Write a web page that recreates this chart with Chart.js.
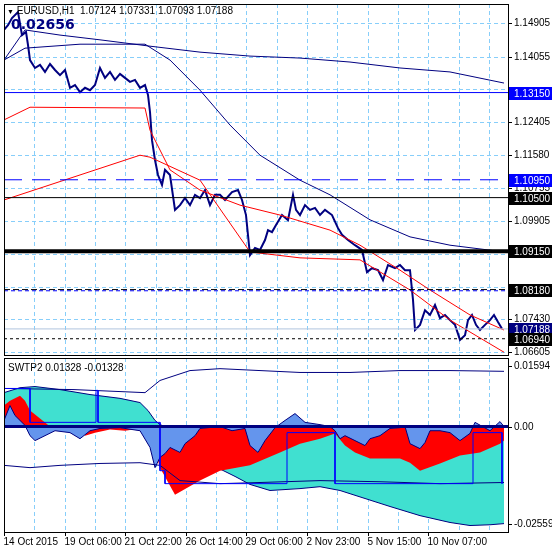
<!DOCTYPE html>
<html><head><meta charset="utf-8">
<script src="https://cdn.jsdelivr.net/npm/chart.js@4.4.1/dist/chart.umd.min.js"></script>
<style>
body{margin:0;background:#fff;font-family:"Liberation Sans",sans-serif;}
#wrap{position:relative;width:552px;height:552px;overflow:hidden;}
canvas{position:absolute;left:0;}
.t{position:absolute;font-size:10px;color:#000;white-space:nowrap;}
</style></head>
<body><div id="wrap">
<canvas id="main" style="top:0" width="552" height="356"></canvas>
<canvas id="sub" style="top:356px" width="552" height="196"></canvas>
<div class="t" style="left:7px;top:5px"><span style="font-size:7px">&#9660;</span> EURUSD,H1&nbsp; 1.07124 1.07331 1.07093 1.07188</div>
<div class="t" style="left:11px;top:16px;font-size:14px;font-weight:bold;color:#000080;font-family:'DejaVu Sans'">0.02656</div>
<div class="t" style="left:8px;top:362px">SWTP2 0.01328 -0.01328</div>
</div>
<script>
// x = bar offset from left edge of the plot
const priceX = [0,4,8,14,18,22,24,26,31,36,41,46,51,56,61,66,71,76,81,86,91,96,101,106,111,116,121,126,131,136,141,144,146,148,151,154,158,161,166,171,176,181,186,191,196,201,206,211,216,221,228,234,238,242,246,251,256,261,264,268,272,278,284,289,292,296,301,306,311,316,321,328,334,338,344,351,358,363,368,374,379,384,391,396,401,406,409,411,416,421,426,431,436,441,446,451,456,461,464,468,472,476,481,486,490,494,498];
const priceY = [1.1473,1.1485,1.1503,1.1518,1.1460,1.1468,1.1435,1.1397,1.1377,1.1385,1.1367,1.1387,1.1372,1.1359,1.1372,1.1327,1.1334,1.1316,1.1327,1.1321,1.1334,1.1377,1.1352,1.1367,1.1347,1.1362,1.1352,1.1342,1.1347,1.1327,1.1334,1.1309,1.1266,1.1195,1.1145,1.1107,1.1082,1.1120,1.1107,1.1019,1.1031,1.1049,1.1031,1.1057,1.1049,1.1069,1.1031,1.1057,1.1057,1.1044,1.1064,1.1069,1.1044,1.1006,1.0905,1.0923,1.0918,1.0943,1.0968,1.0963,1.0981,1.1006,1.0993,1.1057,1.1019,1.1006,1.1031,1.1019,1.1024,1.1006,1.1019,1.1006,1.0973,1.0956,1.0943,1.0930,1.0918,1.0862,1.0872,1.0867,1.0842,1.0880,1.0872,1.0880,1.0867,1.0867,1.0792,1.0716,1.0729,1.0766,1.0754,1.0779,1.0746,1.0754,1.0741,1.0729,1.0691,1.0703,1.0741,1.0754,1.0729,1.0716,1.0729,1.0741,1.0754,1.0736,1.0719];
const red1X = [0,26,141,146,166,196,236,276,326,356,396,426,466,500];
const red1Y = [1.1246,1.1278,1.1276,1.1220,1.1120,1.1069,1.1031,1.1006,1.0968,1.0930,1.0867,1.0817,1.0754,1.0716];
const red2X = [0,136,146,196,246,296,356,406,446,500];
const red2Y = [1.1044,1.1157,1.1152,1.1094,1.0913,1.0898,1.0893,1.0817,1.0741,1.0660];
const blueAX = [0,21,76,141,166,196,226,256,296,326,366,406,446,500];
const blueAY = [1.1397,1.1427,1.1437,1.1437,1.1397,1.1321,1.1233,1.1157,1.1094,1.1057,1.0994,1.0951,1.0930,1.0913];
const blueBX = [0,21,56,96,146,196,246,296,346,396,446,500];
const blueBY = [1.1397,1.1473,1.1460,1.1448,1.1432,1.1417,1.1407,1.1402,1.1392,1.1377,1.1367,1.1339];
const levels = [1.13150,1.10950,1.10500,1.09150,1.08180,1.07188,1.06940];
const levelLabels = ['1.13150','1.10950','1.10500','1.09150','1.08180','1.07188','1.06940'];
const priceTicks = [1.14905,1.14055,1.13230,1.12405,1.11580,1.10755,1.09905,1.09080,1.08255,1.07430,1.06605];
const priceTickLabels = ['1.14905','1.14055','','1.12405','1.11580','1.10755','1.09905','','','1.07430','1.06605'];

// turquoise band: upper part (left) and lower part (right)
const cyanUpX = [0,16,31,56,86,116,136,144,151,156,161];
const cyanUpY = [0.0089,0.0102,0.0105,0.0097,0.0084,0.0074,0.0063,0.0042,0.0016,0.0005,0];
const cyanLoX = [156,166,181,196,211,231,246,266,296,316,336,361,386,416,446,466,486,500];
const cyanLoY = [-0.0010,-0.0037,-0.0076,-0.0095,-0.0105,-0.0131,-0.0152,-0.0168,-0.0163,-0.0158,-0.0168,-0.0189,-0.0210,-0.0234,-0.0252,-0.0260,-0.0258,-0.0255];
const redX = [0,6,16,21,26,36,46,76,81,91,106,121,136,146,156,171,196,216,246,276,296,316,331,341,351,366,396,406,416,436,456,476,496,500];
const redY = [0.0055,0.0068,0.0081,0.0068,0.0042,0.0021,0,-0.0005,-0.0024,-0.0016,-0.0008,-0.0011,-0.0005,-0.0016,-0.0108,-0.0179,-0.0142,-0.0116,-0.0102,-0.0068,-0.0045,-0.0032,-0.0018,-0.0050,-0.0068,-0.0084,-0.0084,-0.0095,-0.0116,-0.0097,-0.0076,-0.0068,-0.0045,-0.0037];
const blueX = [0,6,11,21,26,31,41,51,66,76,86,96,116,136,146,151,156,161,166,176,181,191,196,216,228,241,246,254,261,271,281,291,301,316,326,331,336,341,351,361,366,376,386,396,401,406,416,421,426,436,446,456,466,471,486,496,500];
const blueY = [0.0016,0.0055,0.0029,0.0003,-0.0024,-0.0037,-0.0024,-0.0011,-0.0016,-0.0032,-0.0011,-0.0005,-0.0003,-0.0011,-0.0055,-0.0108,-0.0081,-0.0071,-0.0055,-0.0068,-0.0045,-0.0024,-0.0005,0,-0.0011,-0.0005,-0.0050,-0.0068,-0.0037,-0.0003,0.0016,0.0034,0.0011,0.0005,0,-0.0011,-0.0032,-0.0024,-0.0037,-0.0050,-0.0032,-0.0024,-0.0005,-0.0003,0,-0.0045,-0.0058,-0.0042,-0.0011,-0.0011,-0.0016,-0.0037,-0.0018,0.0011,-0.0011,0.0013,0];
const stepX = [0,26,26,92,92,94,94,156,156,161,161,283,283,331,331,469,469,498,498];
const stepY = [0.0100,0.0100,0.0011,0.0011,0.0095,0.0095,0.0011,0.0011,-0.0116,-0.0116,-0.0150,-0.0150,-0.0016,-0.0016,-0.0150,-0.0150,-0.0016,-0.0016,-0.0150];
const upperX = [0,70,141,156,186,216,256,296,346,396,446,500];
const upperY = [0.0100,0.0097,0.0089,0.0121,0.0147,0.0152,0.0147,0.0142,0.0142,0.0147,0.0147,0.0145];
const lowerX = [0,26,56,96,136,156,176,216,256,316,376,436,500];
const lowerY = [-0.0102,-0.0108,-0.0102,-0.0097,-0.0095,-0.0102,-0.0142,-0.0150,-0.0147,-0.0142,-0.0145,-0.0150,-0.0147];
const subTicks = [0.01594,0,-0.02559];
const subTickLabels = ['0.01594','0.00','-0.02559'];
const timeTicks = [0,60.6,121.2,181.8,242.4,303,363.6,424.2];
const timeLabels = ['14 Oct 2015','19 Oct 06:00','21 Oct 22:00','26 Oct 14:00','29 Oct 06:00','2 Nov 23:00','5 Nov 15:00','10 Nov 07:00'];

const pts = (xs, ys) => xs.map((x, i) => ({ x, y: ys[i] }));
const hline = v => [{ x: 0, y: v }, { x: 504, y: v }];
const line = (data, color, w, extra) => Object.assign({ data, borderColor: color, borderWidth: w, pointRadius: 0, tension: 0, fill: false }, extra || {});
const GRID = '#87cefa';
const FONT = '10px "Liberation Sans"';

const gridX = [];
for (let k = 1; k <= 16; k++) gridX.push(k * 30.3);

function dashGrid(yTicks) {
  return {
    id: 'dashGrid',
    beforeDatasetsDraw(chart) {
      const c = chart.ctx, a = chart.chartArea, x = chart.scales.x, y = chart.scales.y;
      c.save();
      c.strokeStyle = GRID; c.lineWidth = 1; c.setLineDash([4, 3]);
      gridX.forEach(v => {
        const px = Math.round(x.getPixelForValue(v)) + 0.5;
        c.beginPath(); c.moveTo(px, a.top); c.lineTo(px, a.bottom); c.stroke();
      });
      yTicks.forEach(v => {
        const py = Math.round(y.getPixelForValue(v)) + 0.5;
        c.beginPath(); c.moveTo(a.left, py); c.lineTo(a.right, py); c.stroke();
      });
      c.restore();
    }
  };
}

function axisPlugin(ticks, labels, boxes) {
  return {
    id: 'axisLabels',
    afterDraw(chart) {
      const c = chart.ctx, y = chart.scales.y, a = chart.chartArea;
      c.save();
      c.font = FONT; c.textBaseline = 'middle';
      ticks.forEach((t, i) => {
        const py = Math.round(y.getPixelForValue(t));
        c.strokeStyle = '#000'; c.lineWidth = 1;
        c.beginPath(); c.moveTo(a.right, py + 0.5); c.lineTo(a.right + 4, py + 0.5); c.stroke();
        if (labels[i]) { c.fillStyle = '#000'; c.fillText(labels[i], a.right + 6, py); }
      });
      (boxes || []).forEach(b => {
        const py = Math.round(y.getPixelForValue(b.v));
        c.fillStyle = b.bg; c.fillRect(a.right + 1, py - 6, 44, 13);
        c.fillStyle = '#fff'; c.fillText(b.t, a.right + 6, py + 1);
      });
      c.strokeStyle = '#000';
      c.strokeRect(a.left + 0.5, a.top + 0.5, a.width, a.height);
      c.restore();
    }
  };
}

const yAxisFit = s => { s.width = 44; };
const noGrid = { display: false };
const borderOpts = { color: '#000' };

new Chart(document.getElementById('main'), {
  type: 'line',
  data: { datasets: [
    line(hline(levels[0]), '#0000ff', 1),
    line(hline(levels[1]), '#0000ff', 1, { borderDash: [18, 10] }),
    line(hline(levels[2]), '#000', 1),
    line(hline(levels[3]), '#000', 4),
    line(hline(levels[4]), '#000', 1, { borderDash: [6, 3] }),
    line(hline(levels[4] - 0.0003), '#0000ff', 1, { borderDash: [4, 3] }),
    line(hline(levels[5]), '#b0c4de', 1),
    line(hline(levels[6]), '#000', 1, { borderDash: [3, 3] }),
    line(pts(red1X, red1Y), '#ff0000', 1),
    line(pts(red2X, red2Y), '#ff0000', 1),
    line(pts(blueAX, blueAY), '#000080', 1),
    line(pts(blueBX, blueBY), '#000080', 1),
    line(pts(priceX, priceY), '#000080', 2)
  ] },
  options: {
    animation: false, responsive: false, events: [],
    layout: { padding: { left: 4, top: 4, bottom: 1 } },
    plugins: { legend: { display: false }, tooltip: { enabled: false } },
    scales: {
      x: { type: 'linear', min: 0, max: 504,
        afterFit: s => { s.height = 0; },
        ticks: { display: false }, grid: noGrid, border: borderOpts },
      y: { position: 'right', min: 1.0653, max: 1.15384,
        afterFit: yAxisFit,
        ticks: { display: false }, grid: noGrid, border: borderOpts }
    }
  },
  plugins: [dashGrid(priceTicks), axisPlugin(priceTicks, priceTickLabels, [
    { v: levels[0], t: levelLabels[0], bg: '#0000ff' },
    { v: levels[1], t: levelLabels[1], bg: '#0000ff' },
    { v: levels[2], t: levelLabels[2], bg: '#000' },
    { v: levels[3], t: levelLabels[3], bg: '#000' },
    { v: levels[4], t: levelLabels[4], bg: '#000' },
    { v: levels[5], t: levelLabels[5], bg: '#000080' },
    { v: levels[6], t: levelLabels[6], bg: '#000' }
  ])]
});

// first dataset is drawn on top, last at the bottom
new Chart(document.getElementById('sub'), {
  type: 'line',
  data: { datasets: [
    line(hline(0), '#000080', 3),
    line(pts(stepX, stepY), '#0000ff', 1),
    line(pts(upperX, upperY), '#000080', 1),
    line(pts(lowerX, lowerY), '#000080', 1),
    line(pts(blueX, blueY), '#000080', 1, { fill: 'origin', backgroundColor: '#6495ed' }),
    line(pts(redX, redY), '#ff0000', 0, { fill: 'origin', backgroundColor: '#ff0000' }),
    line(pts(cyanUpX, cyanUpY), '#000080', 1, { fill: 'origin', backgroundColor: '#40e0d0' }),
    line(pts(cyanLoX, cyanLoY), '#000080', 1, { fill: 'origin', backgroundColor: '#40e0d0' })
  ] },
  options: {
    animation: false, responsive: false, events: [],
    layout: { padding: { left: 4, top: 2 } },
    plugins: { legend: { display: false }, tooltip: { enabled: false } },
    scales: {
      x: { type: 'linear', min: 0, max: 504,
        afterFit: s => { s.height = 20; },
        ticks: { display: false }, grid: noGrid, border: borderOpts },
      y: { position: 'right', min: -0.0277, max: 0.0180,
        afterFit: yAxisFit,
        ticks: { display: false }, grid: noGrid, border: borderOpts }
    }
  },
  plugins: [dashGrid([]), axisPlugin(subTicks, subTickLabels), {
    id: 'timeAxis',
    afterDraw(ch) {
      const c = ch.ctx, a = ch.chartArea, x = ch.scales.x;
      c.save();
      c.strokeStyle = '#000'; c.lineWidth = 1;
      c.font = FONT; c.fillStyle = '#000'; c.textBaseline = 'top';
      timeTicks.forEach((t, i) => {
        const px = Math.round(x.getPixelForValue(t)) + 0.5;
        c.beginPath(); c.moveTo(px, a.bottom); c.lineTo(px, a.bottom + 4); c.stroke();
        c.fillText(timeLabels[i], px - 1, a.bottom + 5);
      });
      c.restore();
    }
  }]
});
</script>
</body></html>
